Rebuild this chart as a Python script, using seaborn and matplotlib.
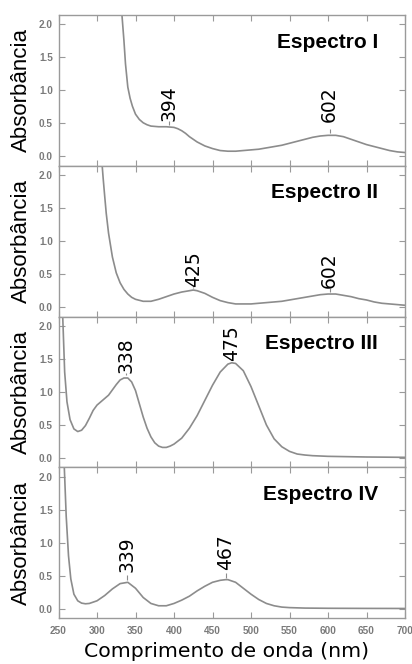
import seaborn as sns
import matplotlib.pyplot as plt
import pandas as pd

# wavelengths (nm) and absorbance
wl_1 = [330, 332, 335, 337, 340, 343, 346, 350, 355, 360, 365, 370, 380, 390, 400, 405, 410, 415,
        420, 430, 440, 450, 460, 470, 480, 490, 500, 510, 520, 530, 540, 550, 560, 570, 580,
        590, 600, 610, 620, 630, 640, 650, 660, 670, 680, 690, 700]
abs_1 = [2.4, 2.2, 1.75, 1.4, 1.05, 0.88, 0.76, 0.64, 0.56, 0.51, 0.48, 0.46, 0.45, 0.45, 0.44, 0.42, 0.39, 0.35,
         0.30, 0.22, 0.16, 0.12, 0.09, 0.08, 0.08, 0.09, 0.10, 0.11, 0.13, 0.15, 0.17, 0.20, 0.23, 0.26, 0.29,
         0.31, 0.32, 0.32, 0.30, 0.26, 0.22, 0.18, 0.15, 0.12, 0.09, 0.07, 0.06]

wl_2 = [305, 308, 310, 312, 315, 320, 325, 330, 335, 340, 345, 350, 360, 370, 380, 390, 400, 410,
        420, 425, 430, 440, 450, 460, 470, 480, 490, 500, 510, 520, 530, 540, 550, 560,
        570, 580, 590, 600, 610, 620, 630, 640, 650, 660, 670, 680, 690, 700]
abs_2 = [2.4, 1.95, 1.68, 1.42, 1.12, 0.76, 0.52, 0.37, 0.27, 0.20, 0.15, 0.12, 0.09, 0.09, 0.12, 0.16, 0.20, 0.23,
         0.25, 0.26, 0.25, 0.21, 0.15, 0.10, 0.07, 0.05, 0.05, 0.05, 0.06, 0.07, 0.08, 0.09, 0.11, 0.13,
         0.15, 0.17, 0.19, 0.20, 0.20, 0.18, 0.16, 0.13, 0.11, 0.08, 0.06, 0.05, 0.04, 0.03]

wl_3 = [255, 258, 261, 265, 270, 275, 280, 285, 290, 295, 300, 305, 310, 315, 320, 325,
        330, 335, 340, 345, 350, 355, 360, 365, 370, 375, 380, 385, 390, 395, 400, 410,
        420, 430, 440, 450, 460, 470, 475, 480, 490, 500, 510, 520, 530, 540, 550, 560,
        570, 580, 600, 650, 700]
abs_3 = [2.3, 1.3, 0.85, 0.58, 0.44, 0.40, 0.42, 0.49, 0.60, 0.72, 0.80, 0.85, 0.90, 0.95, 1.03, 1.11,
         1.18, 1.21, 1.21, 1.15, 1.02, 0.82, 0.62, 0.45, 0.32, 0.23, 0.18, 0.16, 0.16, 0.18, 0.21, 0.30,
         0.45, 0.64, 0.87, 1.10, 1.30, 1.42, 1.44, 1.43, 1.32, 1.08, 0.79, 0.50, 0.29, 0.17, 0.10, 0.06,
         0.045, 0.035, 0.025, 0.015, 0.01]

wl_4 = [257, 260, 263, 266, 270, 275, 280, 285, 290, 300, 310, 320, 330, 340, 350, 360,
        370, 380, 390, 400, 410, 420, 430, 440, 450, 460, 467, 470, 480, 490, 500, 510,
        520, 530, 540, 550, 570, 600, 650, 700]
abs_4 = [2.3, 1.4, 0.80, 0.45, 0.22, 0.12, 0.085, 0.075, 0.08, 0.12, 0.20, 0.30, 0.38, 0.40, 0.31, 0.17,
         0.08, 0.045, 0.045, 0.08, 0.13, 0.19, 0.27, 0.34, 0.40, 0.43, 0.44, 0.44, 0.40, 0.31, 0.22, 0.14,
         0.08, 0.045, 0.025, 0.017, 0.01, 0.007, 0.005, 0.004]

titles = ["Espectro I", "Espectro II", "Espectro III", "Espectro IV"]
peak_wl = [[394, 602], [425, 602], [338, 475], [339, 467]]
peak_abs = [[0.45, 0.32], [0.26, 0.20], [1.22, 1.44], [0.41, 0.44]]
label_y = [[0.54, 0.52], [0.31, 0.29], [1.29, 1.47], [0.55, 0.58]]

x_ticks = [250, 300, 350, 400, 450, 500, 550, 600, 650, 700]
y_ticks = [0.0, 0.5, 1.0, 1.5, 2.0]

spectra = [(wl_1, abs_1), (wl_2, abs_2), (wl_3, abs_3), (wl_4, abs_4)]

sns.set_style("ticks")
plt.rcParams['font.family'] = ['DejaVu Sans']
plt.rcParams['text.color'] = 'black'
plt.rcParams['axes.labelcolor'] = 'black'

line_col = "#8c8c8c"
frame_col = "#9a9a9a"
tick_col = "#7a7a7a"

fig, axes = plt.subplots(4, 1, figsize=(4.12, 6.64), dpi=100, sharex=True)
fig.subplots_adjust(left=58.5 / 412, right=405 / 412, top=1 - 15 / 664, bottom=1 - 618 / 664, hspace=0)

for i, ax in enumerate(axes):
    wl, ab = spectra[i]
    df = pd.DataFrame({"wl": wl, "abs": ab})
    sns.lineplot(data=df, x="wl", y="abs", ax=ax, color=line_col, linewidth=1.2)

    ax.set_xlim(250, 700)
    ax.set_ylim(-0.14, 2.14)
    ax.set_xticks(x_ticks)
    ax.set_yticks(y_ticks)
    ax.set_yticklabels([f"{v:.1f}" for v in y_ticks], fontsize=7.2, fontweight="bold",
                       family="Liberation Sans", color=tick_col)
    ax.tick_params(direction="in", length=4, width=0.8, color=frame_col,
                   top=True, right=True, pad=4)
    for s in ax.spines.values():
        s.set_color(frame_col)
        s.set_linewidth(1.0)

    ax.set_xlabel("")
    ax.set_ylabel("Absorbância", family="Liberation Sans", fontsize=16, labelpad=5)

    ax.text(0.922, 0.82, titles[i], transform=ax.transAxes, ha="right", va="center",
            fontsize=15, fontweight="bold", family="Liberation Sans")

    for px, py, ly in zip(peak_wl[i], peak_abs[i], label_y[i]):
        ax.vlines(px, py + 0.03, min(py + 0.1, ly), color=line_col, linewidth=0.8)
        ax.text(px, ly, str(px), rotation=90, ha="center", va="bottom", fontsize=13.5)

axes[-1].set_xticklabels([str(v) for v in x_ticks], fontsize=7.2, fontweight="bold",
                         family="Liberation Sans", color=tick_col)
axes[-1].tick_params(axis="x", pad=6)
axes[-1].set_xlabel("Comprimento de onda (nm)", fontsize=14.7)
axes[-1].xaxis.set_label_coords(0.485, -0.16)

fig.savefig("out.png", dpi=100)
